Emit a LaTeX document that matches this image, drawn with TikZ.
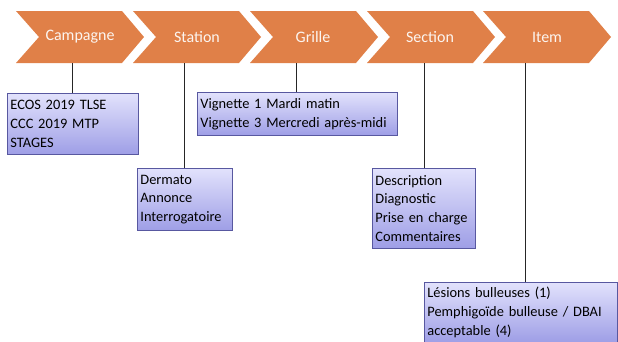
\documentclass[tikz,border=0pt]{standalone}
\usepackage{fontspec}
\setmainfont{Carlito}
\definecolor{chev}{RGB}{224,128,72}
\definecolor{boxtop}{RGB}{226,226,252}
\definecolor{boxbot}{RGB}{158,158,230}
\definecolor{boxline}{RGB}{88,88,160}
\begin{document}
\begin{tikzpicture}[x=1pt,y=-1pt,
  chevtext/.style={text=white!92!chev,font=\fontsize{16}{18}\selectfont,anchor=center},
  infobox/.style={draw=boxline,line width=0.8pt,top color=boxtop,bottom color=boxbot,
    align=left,anchor=north west,inner xsep=3pt,inner ysep=2pt,
    font=\fontsize{14.4}{18.7}\selectfont,text=black},
  conn/.style={draw=black!85,line width=1pt}]
\useasboundingbox (0,0) rectangle (618,341);
\clip (0,0) rectangle (618,341);
\foreach \i/\lx/\name in {0/16/Campagne,1/133/Station,2/250/Grille,3/367/Section,4/483/Item}{
  \fill[chev] (\lx,11) -- ++(106,0) -- ++(22,26) -- ++(-22,26) -- ++(-106,0) -- ++(23,-26) -- cycle;
}
\node[chevtext] (c1) at (80,37) {Campagne};
\node[chevtext] (c2) at (197,37) {Station};
\node[chevtext] (c3) at (313,37) {Grille};
\node[chevtext] (c4) at (430,37) {Section};
\node[chevtext] (c5) at (547,37) {Item};
\coordinate (t1) at (72,63);
\coordinate (t2) at (184,63);
\coordinate (t3) at (296,63);
\coordinate (t4) at (424,63);
\coordinate (t5) at (525,63);
\node[infobox,text width=125pt,minimum height=61pt] (b1) at (7,93) {\mbox{ECOS 2019 TLSE}\\\mbox{CCC 2019 MTP}\\STAGES};
\node[infobox,text width=89pt,minimum height=62pt] (b2) at (137,168) {Dermato\\Annonce\\Interrogatoire};
\node[infobox,text width=194pt,minimum height=43pt] (b3) at (197,92) {\mbox{Vignette 1 Mardi matin}\\\mbox{Vignette 3 Mercredi après-midi}};
\node[infobox,text width=97pt,minimum height=80pt] (b4) at (372,168) {Description\\Diagnostic\\\mbox{Prise en charge}\\Commentaires};
\node[infobox,text width=187pt,minimum height=60pt] (b5) at (424,282) {\mbox{Lésions bulleuses (1)}\\\mbox{Pemphigoïde bulleuse / DBAI}\\\mbox{acceptable (4)}};
\draw[conn] (t1) -- (t1 |- b1.north);
\draw[conn] (t2) -- (t2 |- b2.north);
\draw[conn] (t3) -- (t3 |- b3.north);
\draw[conn] (t4) -- (t4 |- b4.north);
\draw[conn] (t5) -- (t5 |- b5.north);
\end{tikzpicture}
\end{document}
